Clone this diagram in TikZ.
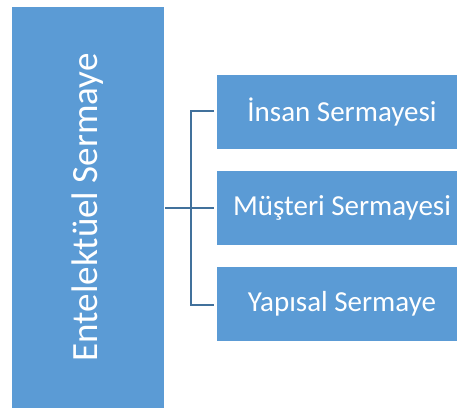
\documentclass[tikz,border=0pt]{standalone}
\usepackage{fontspec}
\setmainfont{Carlito}
\definecolor{boxblue}{HTML}{5B9BD5}
\definecolor{lineblue}{HTML}{41719C}
\begin{document}
\begin{tikzpicture}[x=1pt,y=-1pt,
  blk/.style={fill=boxblue,draw=none},
  lbl/.style={text=white,inner sep=0pt},
  conn/.style={draw=lineblue,line width=2pt}]
\useasboundingbox (0,0) rectangle (457,408);
\fill[blk] (12,7) rectangle (164,408);
\node[lbl,rotate=90,font=\fontsize{37}{40}\selectfont] (main) at (88,207.5) {Entelektüel Sermaye};
\coordinate (mainr) at (165,208);
\fill[blk] (217,75) rectangle (457,149);
\fill[blk] (217,171) rectangle (457,245);
\fill[blk] (217,267) rectangle (457,341);
\node[lbl,font=\fontsize{29}{32}\selectfont] (b1) at (342,112) {İnsan Sermayesi};
\node[lbl,font=\fontsize{29}{32}\selectfont] (b2) at (342,208) {Müşteri Sermayesi};
\node[lbl,font=\fontsize{29}{32}\selectfont] (b3) at (342,304) {Yapısal Sermaye};
\coordinate (e1) at (214,111);
\coordinate (e2) at (214,208);
\coordinate (e3) at (214,305);
\draw[conn] (e1) -- (191,111) -- (191,305) -- (e3);
\draw[conn] (mainr) -- (e2);
\end{tikzpicture}
\end{document}
